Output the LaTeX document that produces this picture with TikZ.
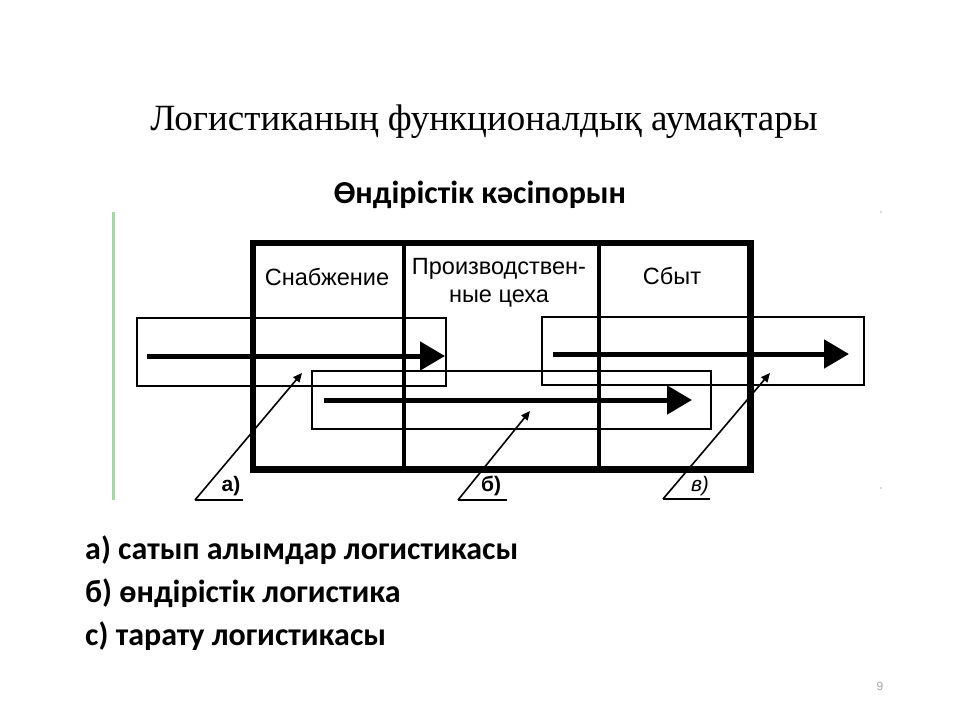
\documentclass[tikz,border=0pt]{standalone}
\usepackage{fontspec}
\setmainfont{Liberation Serif}
\newfontfamily\calfont{Carlito}
\newfontfamily\arifont{Liberation Sans}
\usetikzlibrary{arrows.meta}
\begin{document}
\begin{tikzpicture}[x=1pt,y=-1pt,
  cellbox/.style={draw=black,line width=4pt,minimum height=224pt,anchor=north west,inner sep=0pt},
  flowbox/.style={draw=black,line width=2.2pt,anchor=north west,inner sep=0pt},
  flowarrow/.style={line width=5pt,-{Triangle[length=25pt,width=28pt]}},
  leader/.style={line width=1.6pt,-{Triangle[length=9pt,width=8pt]}},
  underl/.style={line width=1.6pt},
  celltext/.style={font=\arifont\fontsize{23.5}{28}\selectfont,align=center,inner sep=0pt},
  lbl/.style={font=\arifont\bfseries\fontsize{21}{24}\selectfont,inner sep=0pt},
  item/.style={font=\calfont\bfseries\fontsize{32}{36}\selectfont,anchor=west,inner sep=0pt}
]
\useasboundingbox (0,0) rectangle (960,720);
\fill[white] (0,0) rectangle (960,720);

% title
\node[font=\fontsize{37}{42}\selectfont,inner sep=0pt] (title) at (484,122) {Логистиканың функционалдық аумақтары};
\node[font=\calfont\bfseries\fontsize{32}{36}\selectfont,inner sep=0pt] (sub) at (480,195) {Өндірістік кәсіпорын};

% green side line
\draw[color={rgb,255:red,168;green,214;blue,168},line width=3pt] (113,212) -- (113,500);
% faint marks at right
\fill[gray!40] (881,212) circle (1.2pt);
\fill[gray!40] (881,488) circle (1.2pt);

% cells
\node[cellbox,minimum width=150pt] (c1) at (252,242) {};
\node[cellbox,minimum width=195pt] (c2) at (402,242) {};
\node[cellbox,minimum width=150pt] (c3) at (597,242) {};
\draw[line width=5pt] (c1.north west) rectangle (c3.south east);

\node[celltext] (t1) at (327,277) {Снабжение};
\node[celltext] (t2) at (499,283) {Производствен-\\ные цеха};
\node[celltext] (t3) at (672,276) {Сбыт};

% flow boxes
\node[flowbox,minimum width=309pt,minimum height=68pt] (ra) at (136,317) {};
\node[flowbox,minimum width=399pt,minimum height=58pt] (rb) at (311,370) {};
\node[flowbox,minimum width=322pt,minimum height=68pt] (rc) at (541,316) {};

% flow arrows
\coordinate (a1) at (147,356); \coordinate (a2) at (445,356);
\coordinate (b1) at (324,400); \coordinate (b2) at (692,400);
\coordinate (d1) at (553,354); \coordinate (d2) at (849,354);
\draw[flowarrow] (a1) -- (a2);
\draw[flowarrow] (b1) -- (b2);
\draw[flowarrow] (d1) -- (d2);

% leaders
\coordinate (la0) at (195,500); \coordinate (la1) at (243,500); \coordinate (la2) at (302,373);
\coordinate (lb0) at (458,500); \coordinate (lb1) at (507,500); \coordinate (lb2) at (530,411);
\coordinate (lc0) at (663,499); \coordinate (lc1) at (710,499); \coordinate (lc2) at (770,373);
\draw[underl] (la0) -- (la1);
\draw[underl] (lb0) -- (lb1);
\draw[underl] (lc0) -- (lc1);
\draw[leader] (la0) -- (la2);
\draw[leader] (lb0) -- (lb2);
\draw[leader] (lc0) -- (lc2);
\node[lbl] (ka) at (231,486) {а)};
\node[lbl] (kb) at (491,486) {б)};
\node[lbl,font=\arifont\itshape\fontsize{21}{24}\selectfont] (kc) at (700,486) {в)};

% list
\node[item] (i1) at (85,550) {а) сатып алымдар логистикасы};
\node[item] (i2) at (85,593) {б) өндірістік логистика};
\node[item] (i3) at (85,636) {с) тарату логистикасы};

\node[font=\arifont\fontsize{12}{14}\selectfont,text=gray!70,inner sep=0pt] (pg) at (880,686) {9};
\end{tikzpicture}
\end{document}
